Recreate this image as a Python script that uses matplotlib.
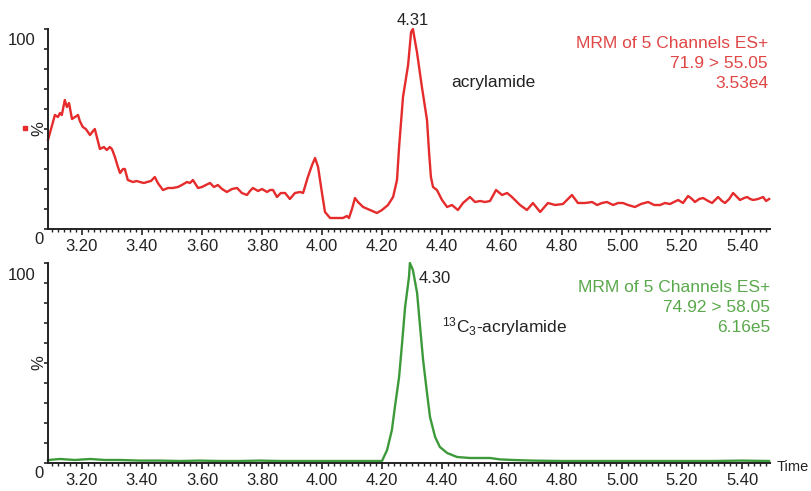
import matplotlib
matplotlib.use("Agg")
import matplotlib.pyplot as plt
from matplotlib.ticker import MultipleLocator, FixedLocator

plt.rcParams['font.family'] = ['Liberation Sans', 'DejaVu Sans']
plt.rcParams['mathtext.fontset'] = 'custom'
plt.rcParams['mathtext.rm'] = 'Liberation Sans'
plt.rcParams['mathtext.it'] = 'Liberation Sans'

# ---------------- data ----------------
acryl_time = [3.087, 3.097, 3.110, 3.120, 3.127, 3.133, 3.143, 3.150, 3.157, 3.167,
              3.177, 3.187, 3.193, 3.203, 3.213, 3.227, 3.237, 3.243, 3.253, 3.260,
              3.273, 3.283, 3.293, 3.300, 3.310, 3.320, 3.327, 3.337, 3.343, 3.353,
              3.370, 3.383, 3.393, 3.407, 3.417, 3.430, 3.443, 3.453, 3.470, 3.487,
              3.503, 3.520, 3.533, 3.550, 3.560, 3.570, 3.587, 3.600, 3.613, 3.627,
              3.640, 3.653, 3.667, 3.683, 3.700, 3.717, 3.733, 3.750, 3.760, 3.770,
              3.787, 3.800, 3.817, 3.827, 3.837, 3.850, 3.863, 3.877, 3.893, 3.910,
              3.927, 3.937, 3.953, 3.967, 3.977, 3.987, 4.000, 4.010, 4.027, 4.047,
              4.070, 4.083, 4.090, 4.100, 4.110, 4.120, 4.137, 4.160, 4.183, 4.200,
              4.220, 4.237, 4.250, 4.257, 4.270, 4.287, 4.297, 4.303, 4.317, 4.333,
              4.350, 4.357, 4.363, 4.370, 4.383, 4.400, 4.417, 4.433, 4.453, 4.470,
              4.493, 4.510, 4.527, 4.543, 4.560, 4.580, 4.600, 4.617, 4.633, 4.660,
              4.683, 4.703, 4.727, 4.753, 4.777, 4.803, 4.833, 4.853, 4.877, 4.900,
              4.917, 4.933, 4.950, 4.970, 4.987, 5.003, 5.020, 5.043, 5.063, 5.087,
              5.107, 5.127, 5.143, 5.160, 5.173, 5.187, 5.203, 5.220, 5.233, 5.243,
              5.257, 5.270, 5.287, 5.300, 5.310, 5.320, 5.333, 5.343, 5.357, 5.370,
              5.383, 5.393, 5.407, 5.417, 5.427, 5.437, 5.453, 5.470, 5.480, 5.490]
acryl_pct = [44.5, 50.0, 57.0, 56.0, 58.0, 57.0, 64.5, 61.0, 63.0, 55.0,
             56.0, 57.0, 54.0, 51.0, 50.0, 47.0, 49.0, 50.0, 44.0, 40.0,
             41.0, 39.5, 41.0, 40.0, 36.0, 31.0, 28.0, 30.0, 30.0, 24.5,
             23.5, 24.0, 23.5, 23.0, 23.5, 24.0, 26.0, 23.0, 19.5, 20.5,
             20.5, 21.0, 22.0, 23.5, 23.0, 24.5, 20.5, 21.0, 22.0, 23.0,
             21.0, 22.0, 20.0, 18.5, 20.0, 20.5, 18.0, 17.0, 19.0, 20.5,
             19.0, 20.0, 18.5, 19.5, 19.5, 16.0, 18.0, 18.0, 15.0, 18.0,
             18.5, 18.0, 26.0, 32.0, 35.5, 31.0, 18.0, 8.5, 5.5, 5.5,
             5.5, 6.5, 5.5, 10.0, 15.5, 13.5, 11.0, 9.5, 8.0, 9.5,
             12.0, 16.0, 24.5, 41.0, 66.0, 82.0, 98.5, 100.0, 88.0, 71.0,
             54.5, 38.0, 26.0, 21.0, 19.5, 14.5, 11.0, 12.0, 9.5, 13.0,
             16.0, 13.5, 14.0, 13.5, 14.0, 19.5, 17.0, 18.0, 16.0, 12.0,
             9.5, 13.0, 8.5, 13.0, 12.0, 12.5, 17.0, 13.0, 13.0, 13.5,
             12.0, 13.0, 13.5, 12.0, 13.0, 13.0, 12.0, 11.0, 12.5, 13.5,
             12.0, 12.0, 13.0, 12.5, 13.5, 14.5, 13.0, 16.5, 15.0, 13.5,
             15.0, 15.5, 14.0, 13.0, 14.5, 16.0, 14.0, 13.0, 15.0, 18.0,
             16.0, 14.5, 15.5, 16.0, 15.0, 14.5, 15.0, 16.0, 14.0, 15.0]

label_time = [3.087, 3.127, 3.177, 3.227, 3.277, 3.327, 3.393, 3.460, 3.527, 3.593,
              3.660, 3.727, 3.793, 3.860, 3.927, 3.993, 4.060, 4.127, 4.193, 4.200,
              4.217, 4.233, 4.243, 4.257, 4.267, 4.277, 4.290, 4.293, 4.303, 4.317,
              4.327, 4.337, 4.350, 4.360, 4.377, 4.393, 4.417, 4.450, 4.493, 4.560,
              4.593, 4.637, 4.700, 4.800, 4.900, 5.000, 5.100, 5.200, 5.300, 5.400,
              5.490]
label_pct = [1.5, 2.0, 1.5, 2.0, 1.5, 1.5, 1.2, 1.2, 1.0, 1.2,
             1.0, 1.0, 1.2, 1.0, 1.0, 1.0, 1.0, 1.0, 1.0, 1.0,
             6.5, 16.5, 28.0, 43.0, 60.0, 78.0, 93.0, 100.0, 96.5, 85.0,
             68.0, 51.5, 35.0, 23.0, 13.0, 8.0, 5.0, 3.0, 2.5, 2.5,
             1.8, 1.5, 1.2, 1.0, 1.0, 1.0, 1.0, 1.0, 1.0, 1.2,
             1.0]

tick_labels = ['3.20', '3.40', '3.60', '3.80', '4.00', '4.20', '4.40', '4.60', '4.80', '5.00', '5.20', '5.40']
tick_values = [3.20, 3.40, 3.60, 3.80, 4.00, 4.20, 4.40, 4.60, 4.80, 5.00, 5.20, 5.40]

# ---------------- figure ----------------
W, H = 812, 491
fig = plt.figure(figsize=(W / 100, H / 100), dpi=100)
fig.patch.set_facecolor('white')

def fx(px):
    return px / W

def fy(py):
    return 1 - py / H

XMIN, XMAX = 3.087, 5.493
RED_LINE = '#e52b2b'
RED_TXT = '#e04646'
GRN_LINE = '#3d9a3a'
GRN_TXT = '#5aa84c'
FS = 12

def style_axes(ax):
    ax.set_xlim(XMIN, XMAX)
    ax.set_ylim(0, 100)
    for s in ['top', 'right']:
        ax.spines[s].set_visible(False)
    for s in ['left', 'bottom']:
        ax.spines[s].set_linewidth(1.4)
        ax.spines[s].set_color('#222222')
    ax.xaxis.set_major_locator(FixedLocator(tick_values))
    ax.set_xticklabels(tick_labels)
    ax.xaxis.set_minor_locator(MultipleLocator(0.02))
    ax.tick_params(axis='x', which='major', length=4, width=1.2, pad=3,
                   labelsize=FS, color='#222222', labelcolor='#222222')
    ax.tick_params(axis='x', which='minor', length=2, width=1.0, color='#222222')
    ax.yaxis.set_major_locator(MultipleLocator(10))
    ax.set_yticklabels([])
    ax.tick_params(axis='y', which='major', length=3, width=1.2, color='#222222')
    ax.text(-0.018, 0.94, '100', transform=ax.transAxes, ha='right', va='center',
            fontsize=FS, color='#222222')
    ax.text(-0.012, -0.05, '0', transform=ax.transAxes, ha='center', va='center',
            fontsize=FS, color='#222222')
    ax.text(-0.012, 0.5, '%', transform=ax.transAxes, ha='center', va='center',
            rotation=90, fontsize=FS, color='#222222')

# top panel
ax1 = fig.add_axes([fx(48), fy(229), fx(770) - fx(48), 200 / H])
style_axes(ax1)
ax1.plot(acryl_time, acryl_pct, color=RED_LINE, lw=1.7, clip_on=False)
ax1.annotate('4.31', xy=(4.303, 100), xytext=(0, 1), textcoords='offset points',
             ha='center', va='bottom', fontsize=FS, color='#222222')
ax1.text(fx(451), fy(82), 'acrylamide', transform=fig.transFigure, ha='left', va='center',
         fontsize=12.5, color='#222222')
for i, s in enumerate(['MRM of 5 Channels ES+', '71.9 > 55.05', '3.53e4']):
    fig.text(fx(768), fy(43 + i * 20), s, ha='right', va='center', fontsize=12.5, color=RED_TXT)
fig.patches.append(plt.Rectangle((fx(23), fy(130)), 4 / W, 4 / H, transform=fig.transFigure,
                                 color=RED_LINE, figure=fig))

# bottom panel
ax2 = fig.add_axes([fx(48), fy(463), fx(770) - fx(48), 200 / H])
style_axes(ax2)
ax2.plot(label_time, label_pct, color=GRN_LINE, lw=1.7, clip_on=False)
ax2.annotate('4.30', xy=(4.293, 100), xytext=(6, -11), textcoords='offset points',
             ha='left', va='center', fontsize=FS, color='#222222')
fig.text(fx(442), fy(327), r'$^{13}$C$_{3}$-acrylamide', ha='left', va='center',
         fontsize=12.5, color='#222222')
for i, s in enumerate(['MRM of 5 Channels ES+', '74.92 > 58.05', '6.16e5']):
    fig.text(fx(770), fy(287 + i * 20), s, ha='right', va='center', fontsize=12.5, color=GRN_TXT)
fig.text(fx(809), fy(467), 'Time', ha='right', va='center', fontsize=10.5, color='#222222')

fig.savefig('out.png', dpi=100, facecolor='white')
